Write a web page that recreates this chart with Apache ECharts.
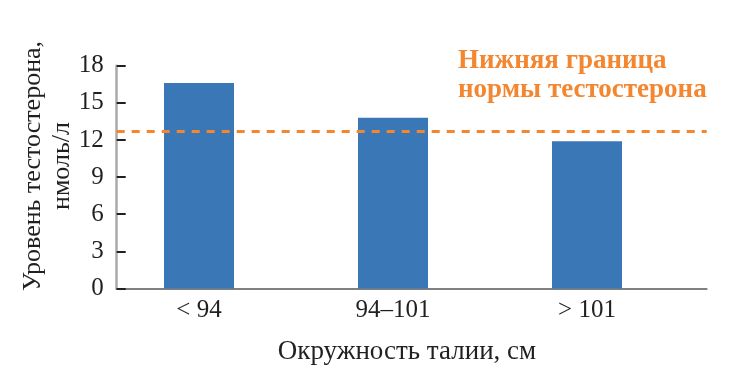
<!DOCTYPE html>
<html>
<head>
<meta charset="utf-8">
<script src="https://cdn.jsdelivr.net/npm/echarts@6/dist/echarts.min.js"></script>
<style>html,body{margin:0;padding:0;background:#fff}#c{width:745px;height:379px}</style>
</head>
<body>
<div id="c"></div>
<script>
var categories = ['< 94', '94–101', '> 101'];
var testosterone = [16.6, 13.8, 11.9];
var lowerNormLimit = 12.7;
var yTicks = {min: 0, max: 18, interval: 3};
var yTitle = ['Уровень тестостерона,', 'нмоль/л'];
var xTitle = 'Окружность талии, см';
var refLabel = 'Нижняя граница\nнормы тестостерона';

var FONT = '"Liberation Serif", "DejaVu Serif", serif';
var TXT = '#231f20';
var chart = echarts.init(document.getElementById('c'), null, {renderer: 'canvas'});
chart.setOption({
  animation: false,
  backgroundColor: '#fff',
  grid: [
    {left: 102, right: 61, top: 65.7, bottom: 90.5},
    {left: 116.7, right: 38.3, top: 65.7, bottom: 90.5}
  ],
  xAxis: [
    {type: 'category', gridIndex: 0, data: categories,
     axisLine: {show: false}, axisTick: {show: false},
     axisLabel: {fontFamily: FONT, fontSize: 25, color: TXT, margin: 9}},
    {type: 'category', gridIndex: 1, data: categories,
     axisLine: {show: true, lineStyle: {color: '#808080', width: 2}},
     axisTick: {show: false}, axisLabel: {show: false}}
  ],
  yAxis: [
    {type: 'value', gridIndex: 0, min: yTicks.min, max: yTicks.max, interval: yTicks.interval, show: false},
    {type: 'value', gridIndex: 1, min: yTicks.min, max: yTicks.max, interval: yTicks.interval,
     axisLine: {show: true, lineStyle: {color: '#aaaaaa', width: 2.5}},
     axisTick: {show: true, inside: true, length: 9, lineStyle: {color: TXT, width: 2}},
     splitLine: {show: false},
     axisLabel: {fontFamily: FONT, fontSize: 25, color: TXT, margin: 13}}
  ],
  series: [
    {type: 'bar', xAxisIndex: 0, yAxisIndex: 0, data: testosterone, barWidth: 70,
     itemStyle: {color: '#3a77b7'}},
    {type: 'line', xAxisIndex: 1, yAxisIndex: 1, data: [], symbol: 'none',
     markLine: {silent: true, symbol: 'none', label: {show: false},
       lineStyle: {color: '#f4862f', width: 3.2, type: [8, 7]},
       data: [{yAxis: lowerNormLimit}]}}
  ],
  graphic: [
    {type: 'text', x: 33, y: 166, rotation: Math.PI / 2,
     style: {text: yTitle[0], font: '26px ' + FONT, fill: TXT, textAlign: 'center', textVerticalAlign: 'middle'}},
    {type: 'text', x: 62, y: 166, rotation: Math.PI / 2,
     style: {text: yTitle[1], font: '26px ' + FONT, fill: TXT, textAlign: 'center', textVerticalAlign: 'middle'}},
    {type: 'text', x: 407, y: 352,
     style: {text: xTitle, font: '27px ' + FONT, fill: TXT, textAlign: 'center', textVerticalAlign: 'middle'}},
    {type: 'text', x: 458, y: 47,
     style: {text: refLabel, font: 'bold 27px ' + FONT, fill: '#f4862f', lineHeight: 29, textAlign: 'left', textVerticalAlign: 'top'}}
  ]
});
</script>
</body>
</html>
